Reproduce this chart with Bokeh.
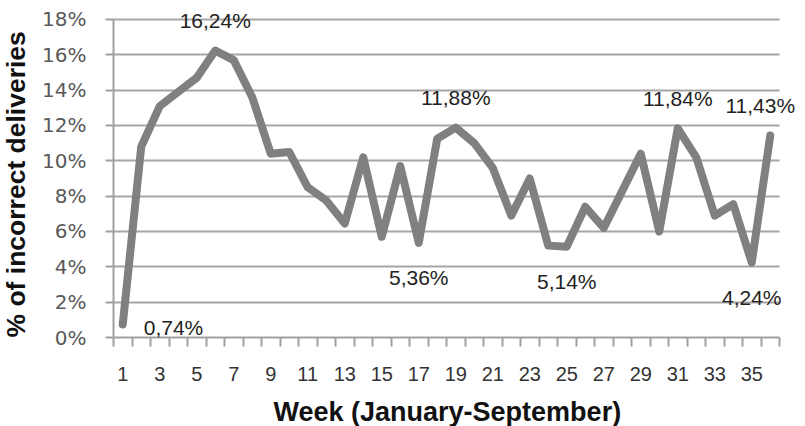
from bokeh.plotting import figure
from bokeh.models import Range1d, FixedTicker, PrintfTickFormatter, Label, BoxAnnotation, Title
from bokeh.embed import file_html
from bokeh.resources import INLINE

# ---- data ----
weeks = list(range(1, 37))
values = [0.74, 10.8, 13.1, 13.9, 14.7, 16.24, 15.7, 13.6, 10.4, 10.5,
          8.5, 7.75, 6.45, 10.2, 5.7, 9.7, 5.36, 11.26, 11.88, 11.0,
          9.6, 6.9, 9.0, 5.2, 5.14, 7.4, 6.2, 8.3, 10.4, 6.0,
          11.84, 10.2, 6.9, 7.55, 4.24, 11.43]
x_tick_weeks = list(range(1, 36, 2))
y_ticks = list(range(0, 19, 2))
labels_above = [6, 19, 31]
labels_above_last = [36]
labels_below = [17, 25, 35]
labels_right = [1]
x_title = "Week (January-September)"
y_title = "% of incorrect deliveries"


def fmt(v):
    return f"{v:.2f}%".replace(".", ",")


x_lo = weeks[0] - 0.5
x_hi = weeks[-1] + 0.5
y_hi = y_ticks[-1]

p = figure(width=805, height=426, output_backend="svg", toolbar_location=None,
           x_range=Range1d(x_lo, x_hi + 1.405), y_range=Range1d(0, y_hi + 1.075),
           min_border_left=113, min_border_right=0, min_border_top=0, min_border_bottom=89)
p.outline_line_color = None
p.background_fill_color = "white"
p.border_fill_color = "white"

# grid
p.ygrid.ticker = FixedTicker(ticks=y_ticks)
p.xgrid.visible = False
p.ygrid.grid_line_color = "#a6a6a6"
p.ygrid.grid_line_width = 2
# keep the grid inside the category area
p.add_layout(BoxAnnotation(left=x_hi, fill_color="white", fill_alpha=1.0,
                           line_color=None, level="underlay"))

p.line(weeks, values, line_color="#808080", line_width=8, line_join="round", line_cap="round")

# x axis
xa = p.xaxis[0]
xa.bounds = (x_lo, x_hi)
xa.ticker = FixedTicker(ticks=x_tick_weeks, minor_ticks=[w + 0.5 for w in range(0, 37)])
xa.major_tick_out = 0
xa.major_tick_in = 0
xa.minor_tick_out = 9
xa.minor_tick_in = 0
xa.minor_tick_line_color = "#a0a0a0"
xa.minor_tick_line_width = 2
xa.axis_line_color = "#a0a0a0"
xa.axis_line_width = 2
xa.major_label_text_font = "Liberation Sans"
xa.major_label_text_font_size = "20px"
xa.major_label_text_color = "#333333"
xa.major_label_standoff = 20

p.add_layout(Title(text=x_title, align="left", offset=160, standoff=0,
                   padding=dict(left=0, right=0, top=11, bottom=0),
                   text_font="Liberation Sans", text_font_size="27px",
                   text_font_style="bold", text_color="#111111"), "below")

# y axis
ya = p.yaxis[0]
ya.bounds = (0, y_hi)
ya.ticker = FixedTicker(ticks=y_ticks)
ya.formatter = PrintfTickFormatter(format="%d%%")
ya.major_tick_out = 8
ya.major_tick_in = 0
ya.major_tick_line_color = "#a0a0a0"
ya.major_tick_line_width = 2
ya.minor_tick_line_color = None
ya.axis_line_color = "#a0a0a0"
ya.axis_line_width = 2
ya.major_label_text_font = "DejaVu Sans"
ya.major_label_text_font_size = "20px"
ya.major_label_text_color = "#595959"
ya.major_label_standoff = 19

p.add_layout(Title(text=y_title, align="left", offset=0, standoff=0,
                   padding=dict(left=0, right=0, top=0, bottom=9),
                   text_font="Liberation Sans", text_font_size="26.5px",
                   text_font_style="bold", text_color="#111111"), "left")

common = dict(text_font="Liberation Sans", text_font_size="21px", text_color="#222222",
              text_baseline="middle", level="overlay")


def add_labels(ws, align, dx, dy):
    for w in ws:
        v = values[w - 1]
        p.add_layout(Label(x=w, y=v, text=fmt(v), text_align=align,
                           x_offset=dx, y_offset=dy, **common))


add_labels(labels_above, "center", 0, 30)
add_labels(labels_above_last, "center", -10, 30)
add_labels(labels_below, "center", 0, -35)
add_labels(labels_right, "left", 21, -3)

open("out.html", "w").write(file_html(p, INLINE))
